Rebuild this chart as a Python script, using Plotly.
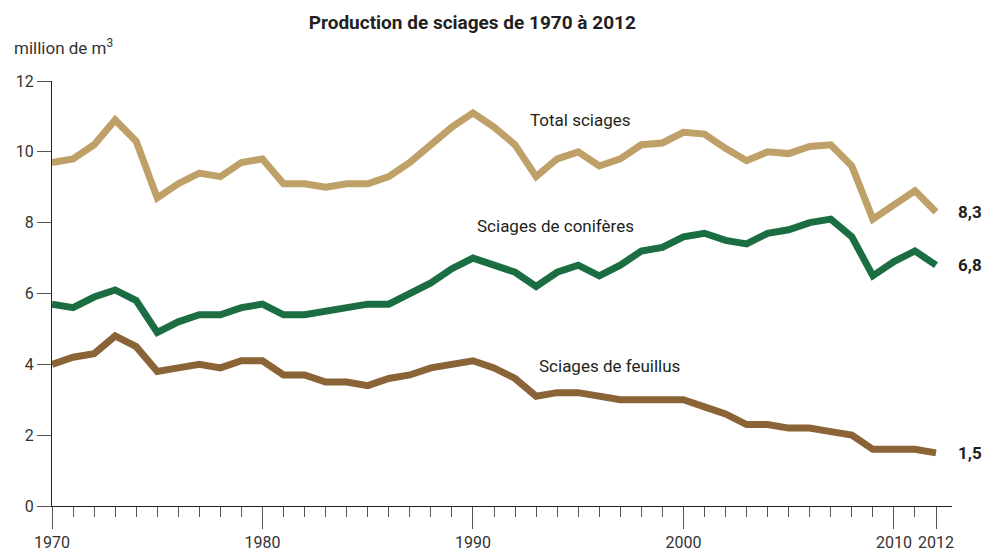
import plotly.graph_objects as go

# Years and series (million m3)
years = list(range(1970, 2013))

total = [9.7, 9.8, 10.2, 10.9, 10.3, 8.7, 9.1, 9.4, 9.3, 9.7,
         9.8, 9.1, 9.1, 9.0, 9.1, 9.1, 9.3, 9.7, 10.2, 10.7,
         11.1, 10.7, 10.2, 9.3, 9.8, 10.0, 9.6, 9.8, 10.2, 10.25,
         10.55, 10.5, 10.1, 9.75, 10.0, 9.95, 10.15, 10.2, 9.6, 8.1,
         8.5, 8.9, 8.3]

coniferes = [5.7, 5.6, 5.9, 6.1, 5.8, 4.9, 5.2, 5.4, 5.4, 5.6,
             5.7, 5.4, 5.4, 5.5, 5.6, 5.7, 5.7, 6.0, 6.3, 6.7,
             7.0, 6.8, 6.6, 6.2, 6.6, 6.8, 6.5, 6.8, 7.2, 7.3,
             7.6, 7.7, 7.5, 7.4, 7.7, 7.8, 8.0, 8.1, 7.6, 6.5,
             6.9, 7.2, 6.8]

feuillus = [4.0, 4.2, 4.3, 4.8, 4.5, 3.8, 3.9, 4.0, 3.9, 4.1,
            4.1, 3.7, 3.7, 3.5, 3.5, 3.4, 3.6, 3.7, 3.9, 4.0,
            4.1, 3.9, 3.6, 3.1, 3.2, 3.2, 3.1, 3.0, 3.0, 3.0,
            3.0, 2.8, 2.6, 2.3, 2.3, 2.2, 2.2, 2.1, 2.0, 1.6,
            1.6, 1.6, 1.5]

x_tickvals = [1970, 1980, 1990, 2000, 2010, 2012]
y_tickvals = [0, 2, 4, 6, 8, 10, 12]

# name, values, colour, label position (x, y)
series = [
    ('Total sciages', total, '#BEA068', 1995.1, 10.9),
    ('Sciages de conifères', coniferes, '#1B6E42', 1993.9, 7.9),
    ('Sciages de feuillus', feuillus, '#8A6337', 1996.5, 3.95),
]

font_main = 'Roboto, Noto Sans, sans-serif'

fig = go.Figure()

for name, vals, color, lx, ly in series:
    fig.add_trace(go.Scatter(x=years, y=vals, mode='lines', name=name,
                             line=dict(color=color, width=7),
                             hoverinfo='x+y'))
    # Series label
    fig.add_annotation(x=lx, y=ly, text=name, showarrow=False,
                       font=dict(size=17, color='#231f20'))
    # End value label
    fig.add_annotation(x=years[-1], y=vals[-1],
                       text='<b>' + ('%.1f' % vals[-1]).replace('.', ',') + '</b>',
                       showarrow=False, xanchor='left', xshift=20,
                       font=dict(size=17, color='#231f20'))

fig.update_layout(
    width=984, height=551,
    margin=dict(l=52, r=32, t=81, b=45, autoexpand=False),
    plot_bgcolor='#ffffff', paper_bgcolor='#ffffff',
    showlegend=False,
    font=dict(family=font_main, size=16, color='#333333'),
    title=dict(text='<b>Production de sciages de 1970 à 2012</b>',
               x=0.48, xanchor='center', y=0.96, yanchor='middle',
               font=dict(size=19, color='#231f20')),
)

fig.update_xaxes(range=[1970, 2012.76], showgrid=False, zeroline=False,
                 automargin=False,
                 showline=True, linecolor='#231f20', linewidth=1,
                 tickmode='array', tickvals=x_tickvals,
                 ticks='outside', ticklen=22, tickcolor='#555555', tickwidth=1,
                 tickfont=dict(size=16, color='#333333'),
                 minor=dict(dtick=1, tick0=1970, ticks='outside', ticklen=10,
                            tickcolor='#555555', tickwidth=1, showgrid=False))

fig.update_yaxes(range=[0, 12], showgrid=False, zeroline=False,
                 automargin=False,
                 showline=True, linecolor='#231f20', linewidth=1,
                 tickmode='array', tickvals=y_tickvals,
                 ticks='outside', ticklen=14, tickcolor='#555555', tickwidth=1,
                 tickfont=dict(size=16, color='#333333'))

# Unit label
fig.add_annotation(xref='paper', yref='paper', x=-0.045, y=1.08,
                   xanchor='left', yanchor='middle', showarrow=False,
                   text='million de m<sup>3</sup>',
                   font=dict(size=17, color='#333333'))

fig.write_html('out.html', config={'displayModeBar': False},
               post_script="document.body.style.margin='0';")
